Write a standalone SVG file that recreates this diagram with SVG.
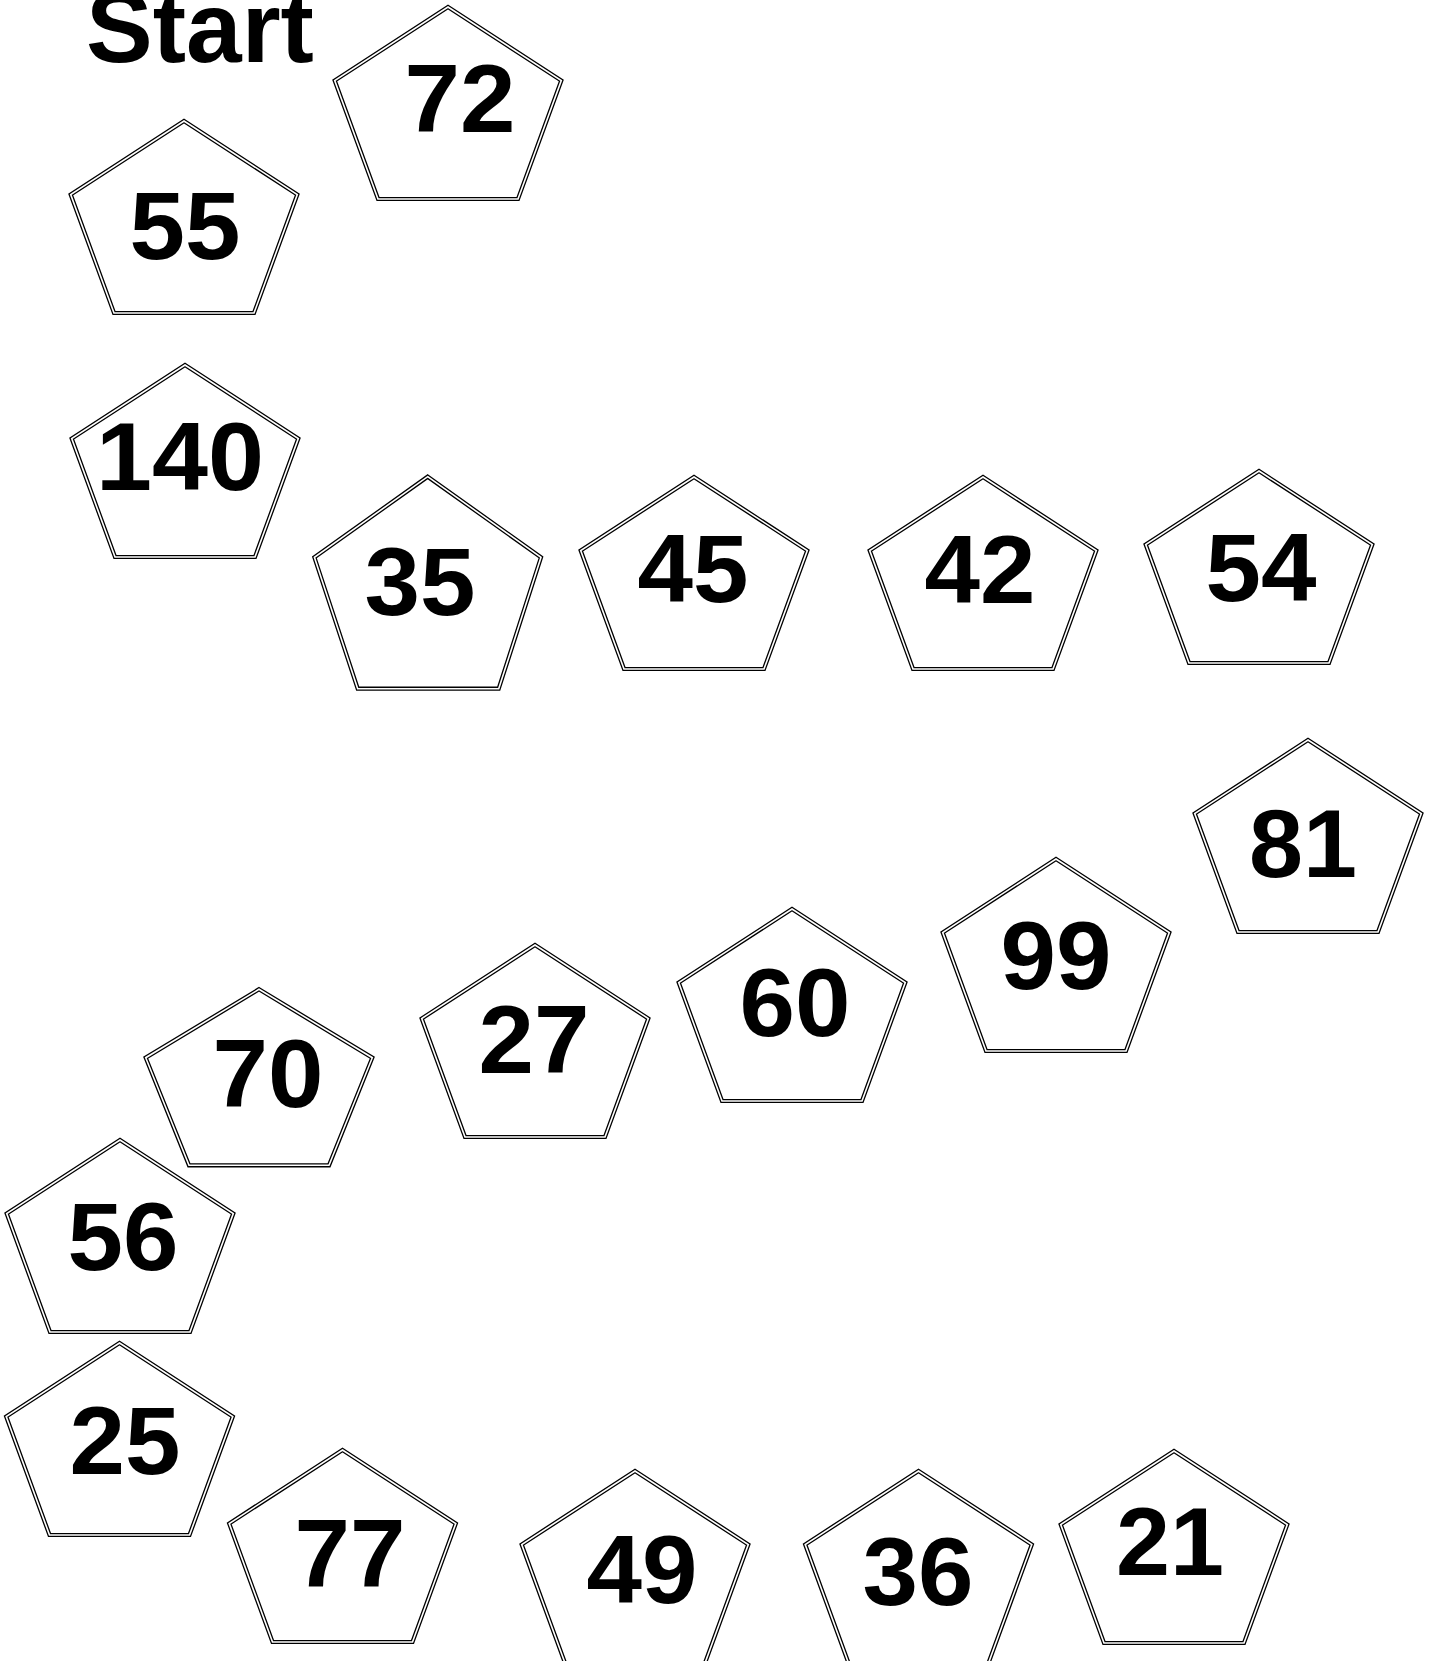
<svg xmlns="http://www.w3.org/2000/svg" width="1432" height="1661" viewBox="0 0 1432 1661">
<style>
.o{fill:#fff;stroke:#000;stroke-width:4.2;stroke-linejoin:miter}
.i{fill:none;stroke:#fff;stroke-width:1.6;stroke-linejoin:miter}
.t{font-family:"Liberation Sans",Arial,sans-serif;font-weight:bold;font-size:96px;fill:#000;text-anchor:middle}
</style>
<rect width="1432" height="1661" fill="#fff"/>
<text class="t" x="200" y="62" style="font-size:100px">Start</text>
<g id="connectors"/>
<g id="n72"><polygon class="o" points="448,7 561.3,80.5 518,199 378,199 334.7,80.5"/><polygon class="i" points="448,7 561.3,80.5 518,199 378,199 334.7,80.5"/><text class="t" x="460" y="132" textLength="111" lengthAdjust="spacingAndGlyphs">72</text></g>
<g id="n55"><polygon class="o" points="184,121 297.3,194.5 254,313 114,313 70.7,194.5"/><polygon class="i" points="184,121 297.3,194.5 254,313 114,313 70.7,194.5"/><text class="t" x="185" y="259" textLength="111" lengthAdjust="spacingAndGlyphs">55</text></g>
<g id="n140"><polygon class="o" points="185,365 298.3,438.5 255,557 115,557 71.7,438.5"/><polygon class="i" points="185,365 298.3,438.5 255,557 115,557 71.7,438.5"/><text class="t" x="180" y="490" textLength="168" lengthAdjust="spacingAndGlyphs">140</text></g>
<g id="n35"><polygon class="o" points="427.7,476.7 541,557.3 498.7,688.7 357.7,688.7 314.4,557.3"/><polygon class="i" points="427.7,476.7 541,557.3 498.7,688.7 357.7,688.7 314.4,557.3"/><text class="t" x="420" y="615" textLength="111" lengthAdjust="spacingAndGlyphs">35</text></g>
<g id="n45"><polygon class="o" points="694,477 807.3,550.5 764,669 624,669 580.7,550.5"/><polygon class="i" points="694,477 807.3,550.5 764,669 624,669 580.7,550.5"/><text class="t" x="693" y="602" textLength="111" lengthAdjust="spacingAndGlyphs">45</text></g>
<g id="n42"><polygon class="o" points="983,477 1096.3,550.5 1053,669 913,669 869.7,550.5"/><polygon class="i" points="983,477 1096.3,550.5 1053,669 913,669 869.7,550.5"/><text class="t" x="980" y="603" textLength="111" lengthAdjust="spacingAndGlyphs">42</text></g>
<g id="n54"><polygon class="o" points="1259,471 1372.3,544.5 1329,663 1189,663 1145.7,544.5"/><polygon class="i" points="1259,471 1372.3,544.5 1329,663 1189,663 1145.7,544.5"/><text class="t" x="1261" y="601" textLength="111" lengthAdjust="spacingAndGlyphs">54</text></g>
<g id="n81"><polygon class="o" points="1308,740 1421.3,813.5 1378,932 1238,932 1194.7,813.5"/><polygon class="i" points="1308,740 1421.3,813.5 1378,932 1238,932 1194.7,813.5"/><text class="t" x="1303" y="877" textLength="108" lengthAdjust="spacingAndGlyphs">81</text></g>
<g id="n99"><polygon class="o" points="1056,859 1169.3,932.5 1126,1051 986,1051 942.7,932.5"/><polygon class="i" points="1056,859 1169.3,932.5 1126,1051 986,1051 942.7,932.5"/><text class="t" x="1056" y="989" textLength="111" lengthAdjust="spacingAndGlyphs">99</text></g>
<g id="n60"><polygon class="o" points="792,909 905.3,982.5 862,1101 722,1101 678.7,982.5"/><polygon class="i" points="792,909 905.3,982.5 862,1101 722,1101 678.7,982.5"/><text class="t" x="795" y="1036" textLength="111" lengthAdjust="spacingAndGlyphs">60</text></g>
<g id="n27"><polygon class="o" points="535,945 648.3,1018.5 605,1137 465,1137 421.7,1018.5"/><polygon class="i" points="535,945 648.3,1018.5 605,1137 465,1137 421.7,1018.5"/><text class="t" x="534" y="1073" textLength="111" lengthAdjust="spacingAndGlyphs">27</text></g>
<g id="n70"><polygon class="o" points="259,989.3 372.3,1057.7 329,1165.3 189,1165.3 145.7,1057.7"/><polygon class="i" points="259,989.3 372.3,1057.7 329,1165.3 189,1165.3 145.7,1057.7"/><text class="t" x="268" y="1107" textLength="111" lengthAdjust="spacingAndGlyphs">70</text></g>
<g id="n56"><polygon class="o" points="120,1140 233.3,1213.5 190,1332 50,1332 6.7,1213.5"/><polygon class="i" points="120,1140 233.3,1213.5 190,1332 50,1332 6.7,1213.5"/><text class="t" x="123" y="1270" textLength="111" lengthAdjust="spacingAndGlyphs">56</text></g>
<g id="n25"><polygon class="o" points="119.5,1343 232.8,1416.5 189.5,1535 49.5,1535 6.2,1416.5"/><polygon class="i" points="119.5,1343 232.8,1416.5 189.5,1535 49.5,1535 6.2,1416.5"/><text class="t" x="125" y="1474" textLength="111" lengthAdjust="spacingAndGlyphs">25</text></g>
<g id="n77"><polygon class="o" points="342.5,1450 455.8,1523.5 412.5,1642 272.5,1642 229.2,1523.5"/><polygon class="i" points="342.5,1450 455.8,1523.5 412.5,1642 272.5,1642 229.2,1523.5"/><text class="t" x="350" y="1587" textLength="111" lengthAdjust="spacingAndGlyphs">77</text></g>
<g id="n49"><polygon class="o" points="635,1471 748.3,1544.5 705,1663 565,1663 521.7,1544.5"/><polygon class="i" points="635,1471 748.3,1544.5 705,1663 565,1663 521.7,1544.5"/><text class="t" x="642" y="1603" textLength="111" lengthAdjust="spacingAndGlyphs">49</text></g>
<g id="n36"><polygon class="o" points="918.5,1471 1031.8,1544.5 988.5,1663 848.5,1663 805.2,1544.5"/><polygon class="i" points="918.5,1471 1031.8,1544.5 988.5,1663 848.5,1663 805.2,1544.5"/><text class="t" x="918" y="1605" textLength="111" lengthAdjust="spacingAndGlyphs">36</text></g>
<g id="n21"><polygon class="o" points="1174,1451 1287.3,1524.5 1244,1643 1104,1643 1060.7,1524.5"/><polygon class="i" points="1174,1451 1287.3,1524.5 1244,1643 1104,1643 1060.7,1524.5"/><text class="t" x="1170" y="1575" textLength="108" lengthAdjust="spacingAndGlyphs">21</text></g>
</svg>
